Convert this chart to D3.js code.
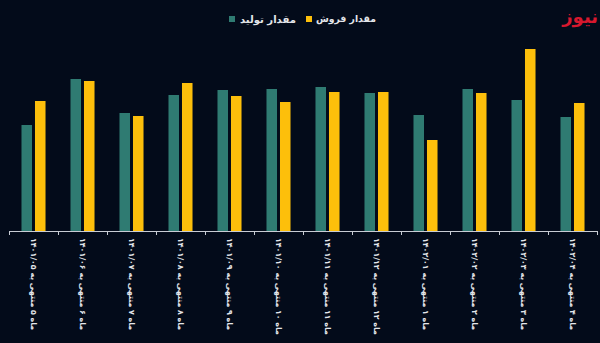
<!DOCTYPE html>
<html><head><meta charset="utf-8">
<script src="https://cdn.jsdelivr.net/npm/d3@7"></script>
<style>
html,body{margin:0;padding:0;background:#030b1a;}
svg{display:block;}
</style></head>
<body>
<svg id="c" width="600" height="343"></svg>
<script>
const categories = [
  "ماه ۵ منتهی به ۱۴۰۱/۰۵",
  "ماه ۶ منتهی به ۱۴۰۱/۰۶",
  "ماه ۷ منتهی به ۱۴۰۱/۰۷",
  "ماه ۸ منتهی به ۱۴۰۱/۰۸",
  "ماه ۹ منتهی به ۱۴۰۱/۰۹",
  "ماه ۱۰ منتهی به ۱۴۰۱/۱۰",
  "ماه ۱۱ منتهی به ۱۴۰۱/۱۱",
  "ماه ۱۲ منتهی به ۱۴۰۱/۱۲",
  "ماه ۱ منتهی به ۱۴۰۲/۰۱",
  "ماه ۲ منتهی به ۱۴۰۲/۰۲",
  "ماه ۳ منتهی به ۱۴۰۲/۰۳",
  "ماه ۴ منتهی به ۱۴۰۲/۰۴"
];
const production = [106, 152, 118, 136, 141, 142, 144, 138, 116, 142, 131, 114];
const sales      = [130, 150, 115, 148, 135, 129, 139, 139, 91, 138, 182, 128];
const seriesNames = ["مقدار تولید", "مقدار فروش"];
const seriesColors = ["#2f7b72", "#fdbf0b"];

const svg = d3.select("#c");
const x0 = d3.scaleBand().domain(categories).range([9, 597]).padding(0);
const x1 = d3.scaleBand().domain([0, 1]).range([0, x0.bandwidth()]).paddingInner(0.22).paddingOuter(0.925);
const y = d3.scaleLinear().domain([0, 200]).range([231, 31]);

const data = categories.map((c, i) => ({c, v: [production[i], sales[i]]}));

const g = svg.append("g");
g.selectAll("g.grp").data(data).join("g")
  .attr("transform", d => `translate(${x0(d.c)},0)`)
  .selectAll("rect").data(d => d.v.map((v, k) => ({k, v}))).join("rect")
  .attr("x", d => x1(d.k))
  .attr("width", x1.bandwidth())
  .attr("y", d => y(d.v))
  .attr("height", d => y(0) - y(d.v))
  .attr("fill", d => seriesColors[d.k]);

// axis line and boundary ticks
const axisG = svg.append("g");
const [r0, r1] = x0.range();
axisG.append("line").attr("x1", r0).attr("x2", r1).attr("y1", y(0) + 0.5).attr("y2", y(0) + 0.5)
  .attr("stroke", "#c8ccd4").attr("stroke-width", 1);
const bounds = categories.map(c => x0(c)).concat([r1]);
axisG.selectAll("line.t").data(bounds).join("line").attr("class", "t")
  .attr("x1", d => Math.round(d) + 0.5).attr("x2", d => Math.round(d) + 0.5)
  .attr("y1", y(0)).attr("y2", y(0) + 4)
  .attr("stroke", "#c8ccd4").attr("stroke-width", 1);

// labels
const labels = axisG.selectAll("text.lab").data(categories).join("text").attr("class", "lab")
  .attr("transform", d => `translate(${x0(d) + x0.bandwidth() / 2 + 0.5},238) rotate(90)`)
  .attr("direction", "rtl")
  .attr("text-anchor", "end")
  .attr("dy", "0.35em")
  .attr("fill", "#e4e6ea")
  .attr("font-family", "DejaVu Sans, sans-serif")
  .attr("font-size", 10)
  .attr("font-weight", "bold")
  .text(d => d);
let maxLen = 0;
labels.each(function(){ maxLen = Math.max(maxLen, this.getComputedTextLength()); });
const fs = Math.min(10, 10 * 97 / maxLen);
labels.attr("font-size", fs);

// legend
const legend = svg.append("g");
const items = [
  {name: seriesNames[0], color: seriesColors[0], sx: 229, tx: 240, w: 56},
  {name: seriesNames[1], color: seriesColors[1], sx: 306, tx: 316, w: 60}
];
items.forEach(it => {
  legend.append("rect").attr("x", it.sx).attr("y", 16).attr("width", 6).attr("height", 6).attr("fill", it.color);
  const t = legend.append("text").attr("x", it.tx).attr("y", 19).attr("dy", "0.35em")
    .attr("direction", "rtl").attr("text-anchor", "end")
    .attr("fill", "#e4e6ea").attr("font-family", "DejaVu Sans, sans-serif")
    .attr("font-size", 12).attr("font-weight", "bold").text(it.name);
  const L = t.node().getComputedTextLength();
  t.attr("font-size", Math.min(12, 12 * it.w / L));
});

// logo
svg.append("text").attr("x", 598).attr("y", 17).attr("dy", "0.35em")
  .attr("direction", "rtl").attr("text-anchor", "start")
  .attr("fill", "#d8182e").attr("font-family", "DejaVu Sans, sans-serif")
  .attr("font-size", 18).attr("font-weight", "bold").text("نیوز");
</script>
</body></html>
